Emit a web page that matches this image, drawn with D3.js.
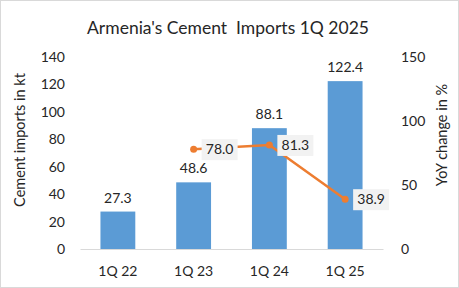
<!DOCTYPE html>
<html>
<head>
<meta charset="utf-8">
<script src="https://cdnjs.cloudflare.com/ajax/libs/d3/7.8.5/d3.min.js"></script>
<style>
  body { margin: 0; background: #fff; }
  text { font-family: Lato, "Open Sans", sans-serif; fill: #262626; }
</style>
</head>
<body>
<svg class="chart"></svg>
<script>
// chart data
var quarters = ["1Q 22", "1Q 23", "1Q 24", "1Q 25"];
var imports = [27.3, 48.6, 88.1, 122.4];
var yoy = [null, 78.0, 81.3, 38.9];
var leftTicks = [0, 20, 40, 60, 80, 100, 120, 140];
var rightTicks = [0, 50, 100, 150];

var W = 459, H = 288;
var margin = {top: 57, right: 76, bottom: 39, left: 80},
  width = W - margin.left - margin.right,
  height = H - margin.top - margin.bottom;

var svg = d3.select(".chart").attr("width", W).attr("height", H);

// outer border
svg.append("rect")
  .attr("x", 0.5).attr("y", 0.5)
  .attr("width", W - 1).attr("height", H - 1)
  .attr("fill", "#fff").attr("stroke", "#d9d9d9");

// title
svg.append("text")
  .attr("x", 228).attr("y", 34)
  .style("text-anchor", "middle")
  .style("font-size", "17.5px")
  .style("white-space", "pre")
  .text("Armenia's Cement  Imports 1Q 2025");

var chart = svg.append("g")
  .attr("transform", "translate(" + margin.left + "," + margin.top + ")");

// scales
var x = d3.scaleBand().domain(quarters).range([0, width]).paddingInner(0.54).paddingOuter(0.27);
var y = d3.scaleLinear().domain([0, 140]).range([height, 0]);
var y2 = d3.scaleLinear().domain([0, 150]).range([height, 0]);

// left axis
var yAxis = d3.axisLeft(y).tickValues(leftTicks).tickSize(0).tickPadding(15);
chart.append("g").call(yAxis)
  .call(function(g) { g.select(".domain").remove(); })
  .selectAll("text").style("font-size", "14px").attr("fill", "#262626");

// right axis
var yAxis2 = d3.axisRight(y2).tickValues(rightTicks).tickSize(0).tickPadding(18);
chart.append("g").attr("transform", "translate(" + width + ",0)").call(yAxis2)
  .call(function(g) { g.select(".domain").remove(); })
  .selectAll("text").style("font-size", "14px").attr("fill", "#262626");

// x axis
var xAxis = d3.axisBottom(x).tickSize(0).tickPadding(17);
var gx = chart.append("g").attr("transform", "translate(0," + height + ")").call(xAxis);
gx.select(".domain").attr("stroke", "#d9d9d9");
gx.selectAll("text").style("font-size", "14px").attr("fill", "#262626");

// axis titles
svg.append("text")
  .attr("transform", "translate(25,140) rotate(-90)")
  .style("text-anchor", "middle")
  .style("font-size", "14.5px")
  .text("Cement imports in kt");

svg.append("text")
  .attr("transform", "translate(447,135) rotate(-90)")
  .style("text-anchor", "middle")
  .style("font-size", "14.5px")
  .text("YoY change in %");

// bars
chart.selectAll(".bar")
  .data(imports)
  .enter().append("rect")
  .attr("class", "bar")
  .attr("x", function(d, i) { return x(quarters[i]); })
  .attr("y", function(d) { return y(d); })
  .attr("width", x.bandwidth())
  .attr("height", function(d) { return height - y(d); })
  .attr("fill", "#5b9bd5");

// bar labels
chart.selectAll(".barLabel")
  .data(imports)
  .enter().append("text")
  .attr("x", function(d, i) { return x(quarters[i]) + x.bandwidth() / 2; })
  .attr("y", function(d) { return y(d) - 9; })
  .style("text-anchor", "middle")
  .style("font-size", "14px")
  .text(function(d) { return d.toFixed(1); });

// line
var pts = yoy.map(function(v, i) { return {q: quarters[i], v: v}; })
  .filter(function(d) { return d.v !== null; });
var cx = function(d) { return x(d.q) + x.bandwidth() / 2; };

chart.append("path")
  .datum(pts)
  .attr("fill", "none")
  .attr("stroke", "#ed7d31")
  .attr("stroke-width", 2.5)
  .attr("d", d3.line().x(cx).y(function(d) { return y2(d.v); }));

chart.selectAll(".dot")
  .data(pts)
  .enter().append("circle")
  .attr("cx", cx)
  .attr("cy", function(d) { return y2(d.v); })
  .attr("r", 3.5)
  .attr("fill", "#ed7d31");

// line labels with boxes
var lbl = chart.selectAll(".lineLabel")
  .data(pts)
  .enter().append("g")
  .attr("transform", function(d) { return "translate(" + (cx(d) + 8) + "," + y2(d.v) + ")"; });

lbl.append("rect")
  .attr("x", 0).attr("y", -10)
  .attr("width", 36).attr("height", 21)
  .attr("fill", "#f2f2f2");

lbl.append("text")
  .attr("x", 18).attr("y", 5)
  .style("text-anchor", "middle")
  .style("font-size", "14px")
  .text(function(d) { return d.v.toFixed(1); });
</script>
</body>
</html>
